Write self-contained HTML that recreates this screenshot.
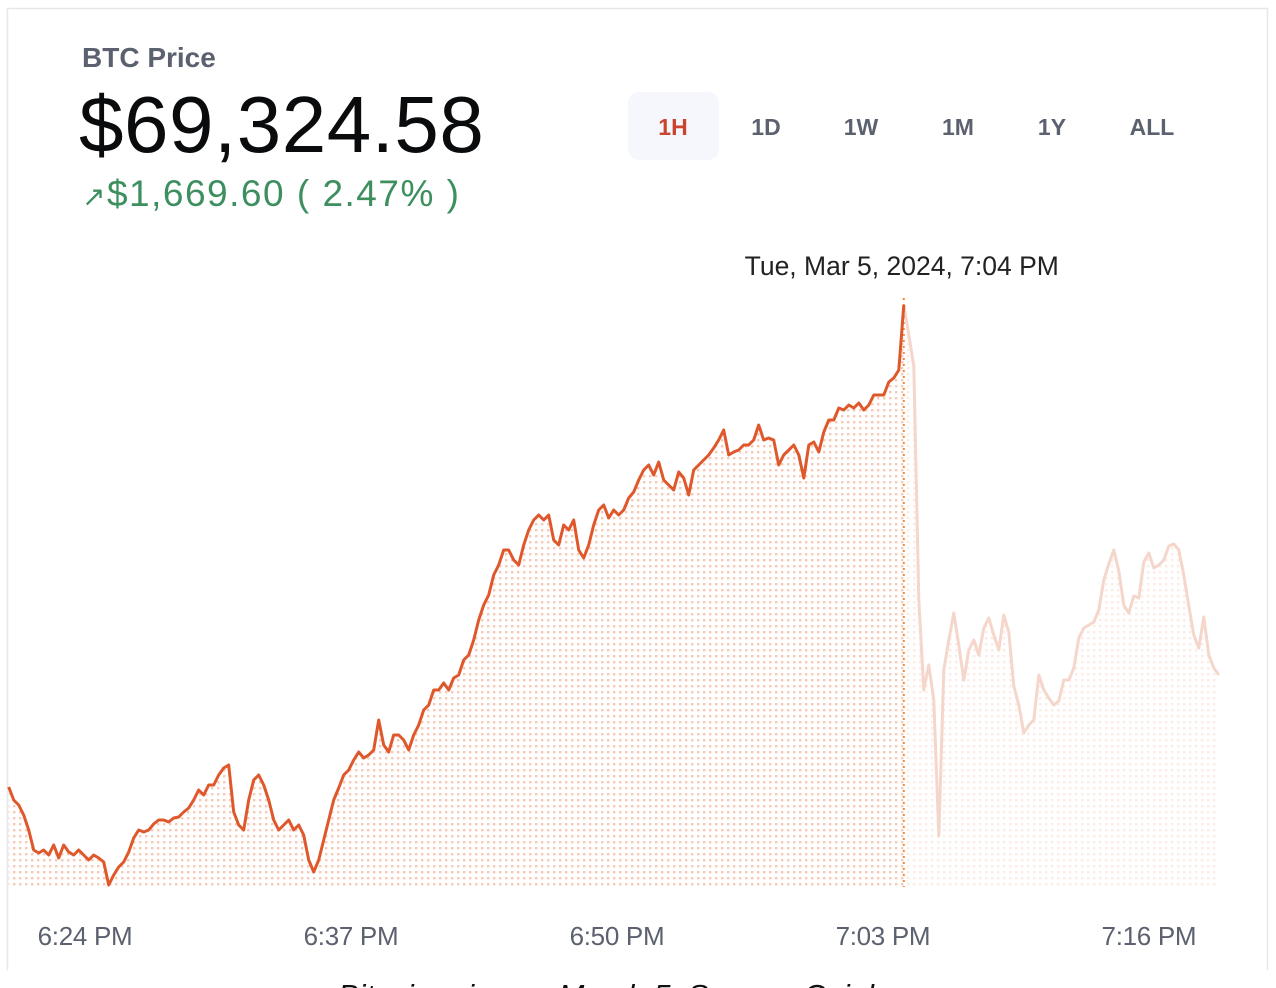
<!DOCTYPE html>
<html><head><meta charset="utf-8">
<style>
html,body{margin:0;padding:0;background:#fff;width:1276px;height:988px;overflow:hidden}
svg{display:block}
text{font-family:"Liberation Sans",sans-serif}
</style></head>
<body>
<svg id="chart" width="1276" height="988" viewBox="0 0 1276 988">
<defs>
<pattern id="dotsSolid" x="0" y="0" width="6" height="6" patternUnits="userSpaceOnUse"><rect x="1" y="1" width="2.4" height="2.4" fill="#f6c9b6"/></pattern>
<pattern id="dotsFaded" x="0" y="0" width="6" height="6" patternUnits="userSpaceOnUse"><rect x="1" y="1" width="2.4" height="2.4" fill="#fcebe4"/></pattern>
</defs>
<path d="M7.5 970 V8.5 H1267.5 V970" fill="none" stroke="#e8e8ea" stroke-width="1.5"/>
<text x="82" y="67" font-size="28" font-weight="bold" fill="#5b616e">BTC Price</text>
<text x="79" y="152" font-size="80" fill="#0a0b0d" letter-spacing="0.5">$69,324.58</text>
<text x="82" y="206" font-size="37" fill="#3d8f5f" letter-spacing="1.5"><tspan font-size="28">↗</tspan>$1,669.60 ( 2.47% )</text>
<g>
<rect x="628" y="92" width="91" height="68" rx="11" fill="#f5f7fc"/>
<text x="673" y="135" font-size="23" font-weight="bold" fill="#c9452f" text-anchor="middle">1H</text>
<text x="766" y="135" font-size="23" font-weight="bold" fill="#5b616e" text-anchor="middle">1D</text>
<text x="861" y="135" font-size="23" font-weight="bold" fill="#5b616e" text-anchor="middle">1W</text>
<text x="958" y="135" font-size="23" font-weight="bold" fill="#5b616e" text-anchor="middle">1M</text>
<text x="1052" y="135" font-size="23" font-weight="bold" fill="#5b616e" text-anchor="middle">1Y</text>
<text x="1152" y="135" font-size="23" font-weight="bold" fill="#5b616e" text-anchor="middle">ALL</text>
</g>
<g id="plot"></g>
<g id="xaxis"></g>
<text x="338" y="1006" font-size="31" font-style="italic" fill="#111">Bitcoin price on March 5. Source: Coinbase</text>
</svg>
<script>
// minutes after 6:00 PM of first sample, and sampling interval in minutes
const startMinute = 20.27;
const stepMinutes = 0.2444;
const hoverIndex = 179;
const hoverLabel = "Tue, Mar 5, 2024, 7:04 PM";
const prices = [67400,67348,67328,67288,67228,67148,67136,67148,67128,67168,67116,67168,67140,67128,67148,67128,67108,67128,67116,67100,
67008,67048,67080,67100,67140,67196,67228,67220,67228,67252,67268,67268,67260,67276,67280,67300,67316,67348,67388,67368,
67408,67408,67448,67476,67488,67300,67248,67228,67348,67428,67448,67408,67348,67268,67228,67248,67268,67228,67248,67208,
67108,67060,67108,67188,67268,67348,67396,67448,67468,67508,67540,67516,67528,67548,67668,67568,67540,67608,67608,67588,
67548,67608,67648,67708,67728,67788,67788,67816,67788,67836,67848,67908,67928,67988,68068,68128,68168,68248,68288,68348,
68348,68308,68288,68368,68428,68468,68488,68468,68488,68388,68368,68448,68428,68468,68348,68316,68368,68448,68508,68528,
68476,68508,68488,68508,68556,68580,68628,68668,68688,68648,68700,68628,68608,68588,68660,68636,68568,68668,68688,68708,
68728,68756,68788,68828,68728,68740,68748,68768,68768,68788,68848,68788,68796,68788,68688,68728,68748,68768,68728,68636,
68768,68780,68740,68820,68868,68868,68916,68908,68928,68916,68936,68908,68928,68968,68968,68968,69020,69036,69068,69328,
69208,69084,68148,67788,67888,67748,67204,67868,67988,68096,67968,67828,67948,67988,67928,68036,68076,68008,67948,68088,
68020,67804,67728,67616,67648,67668,67848,67788,67756,67728,67744,67828,67828,67876,67996,68036,68048,68060,68108,68228,
68292,68348,68264,68128,68096,68164,68156,68300,68336,68276,68288,68308,68364,68372,68348,68248,68124,68008,67956,68080,
67928,67876,67848];
const tickMinutes = [24, 37, 50, 63, 76];
const tickLabels = ["6:24 PM", "6:37 PM", "6:50 PM", "7:03 PM", "7:16 PM"];
const priceMin = 67000, priceMax = 69328;

const NS = "http://www.w3.org/2000/svg";
const xOf = m => 85 + (m - 24) * 20.46;
const yOf = p => 887 - (p - priceMin) / (priceMax - priceMin) * 582;
const pts = prices.map((p, i) => [xOf(startMinute + i * stepMinutes), yOf(p)]);
const plot = document.getElementById("plot");
const base = 887;
function mk(tag, attrs) { const e = document.createElementNS(NS, tag); for (const k in attrs) e.setAttribute(k, attrs[k]); return e; }
function lineD(a) { return a.map((q, i) => (i ? "L" : "M") + q[0].toFixed(1) + " " + q[1].toFixed(1)).join(" "); }
function areaD(a) { return lineD(a) + " L" + a[a.length - 1][0].toFixed(1) + " " + base + " L" + a[0][0].toFixed(1) + " " + base + " Z"; }
const solid = pts.slice(0, hoverIndex + 1), faded = pts.slice(hoverIndex);

const fa = mk("path", { d: areaD(faded), fill: "url(#dotsFaded)" });


plot.appendChild(fa);
const sa = mk("path", { d: areaD(solid), fill: "url(#dotsSolid)" });


plot.appendChild(sa);
const fl = mk("path", { d: lineD(faded), fill: "none", stroke: "#f5d6ca", "stroke-width": 3, "stroke-linejoin": "round" });


plot.appendChild(fl);
const hx = pts[hoverIndex][0];
const vl = mk("line", { x1: hx, x2: hx, y1: 298, y2: base, stroke: "#f08a3c", "stroke-width": 2, "stroke-dasharray": "2 4" });


plot.appendChild(vl);
const sl = mk("path", { d: lineD(solid), fill: "none", stroke: "#df582b", "stroke-width": 3, "stroke-linejoin": "round" });


plot.appendChild(sl);
const hl = mk("text", { x: hx - 2, y: 275, "font-size": 26.5, fill: "#222", "text-anchor": "middle" });
hl.textContent = hoverLabel;


plot.appendChild(hl);

const xa = document.getElementById("xaxis");


tickMinutes.forEach((m, i) => {
  const t = mk("text", { x: xOf(m), y: 945, "font-size": 26, fill: "#5b616e", "text-anchor": "middle", "letter-spacing": "-0.3" });
  t.textContent = tickLabels[i];
  
  
  xa.appendChild(t);
});
</script>
</body></html>
